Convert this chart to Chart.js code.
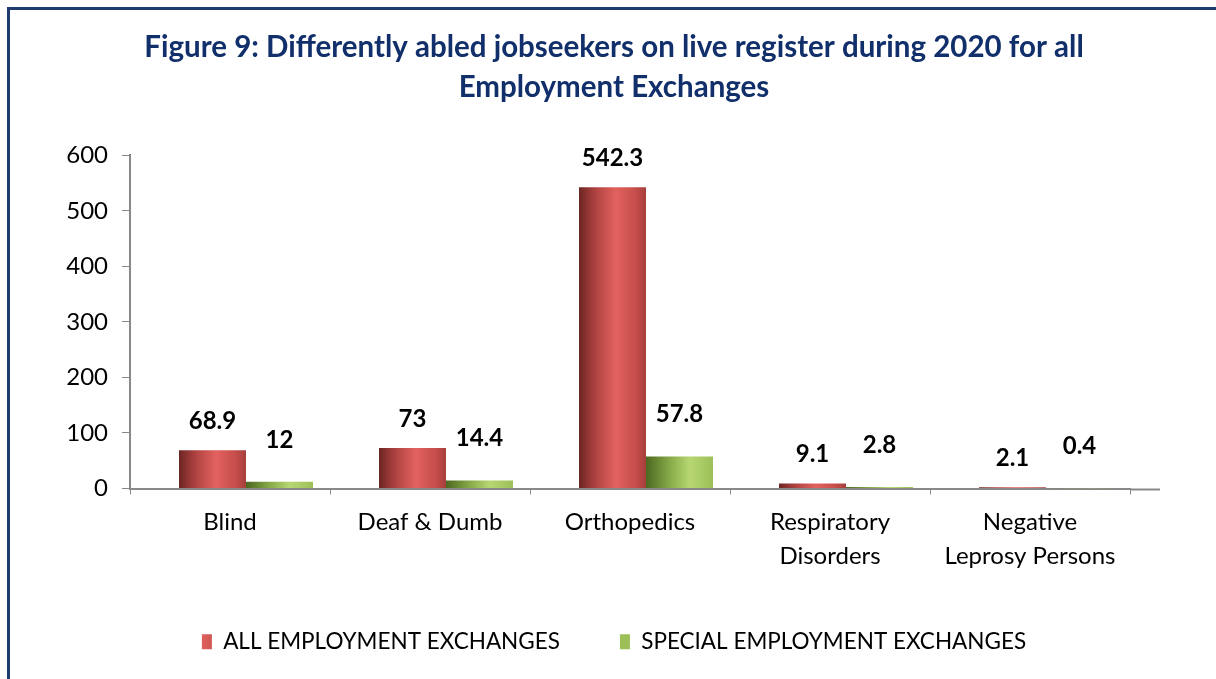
<!DOCTYPE html>
<html>
<head>
<meta charset="utf-8">
<script src="https://cdn.jsdelivr.net/npm/chart.js@4.4.1/dist/chart.umd.min.js"></script>
<style>
  html, body { margin: 0; padding: 0; background: #fff; overflow: hidden; }
  #wrap { position: relative; width: 1216px; height: 679px; }
  #frame { position: absolute; left: 7px; top: 7px; width: 1300px; height: 800px;
           border-top: 3px solid #1F3A6E; border-left: 3px solid #1F3A6E; pointer-events: none; }
  canvas { position: absolute; left: 0; top: 0; }
</style>
</head>
<body>
<div id="wrap">
  <canvas id="c" width="1216" height="679"></canvas>
  <div id="frame"></div>
</div>
<script>
const titleLines = ["Figure 9: Differently abled jobseekers on live register during 2020 for all", "Employment Exchanges"];
const categories = ["Blind", "Deaf & Dumb", "Orthopedics", ["Respiratory", "Disorders"], ["Negative", "Leprosy Persons"]];
const seriesNames = ["ALL EMPLOYMENT EXCHANGES", "SPECIAL EMPLOYMENT EXCHANGES"];
const allExchanges = [68.9, 73, 542.3, 9.1, 2.1];
const specialExchanges = [12, 14.4, 57.8, 2.8, 0.4];
const yTicks = [0, 100, 200, 300, 400, 500, 600];

const FONT = "Lato, 'Open Sans', sans-serif";
const DEPTH = 16; // pseudo-3D horizontal depth shift of the bar series

function barGradient(kind) {
  return function (ctx) {
    const solid = kind === 0 ? '#C0504D' : '#9BBB59';
    if (ctx.type !== 'data') return solid;
    const chart = ctx.chart;
    const xs = chart.scales.x;
    if (!xs || !chart.chartArea) return solid;
    const center = xs.getPixelForValue(ctx.dataIndex);
    const cat = xs.width / categories.length;
    const bw = cat * 0.67 / 2;
    const x0 = kind === 0 ? center - bw : center;
    const x1 = x0 + bw;
    const g = chart.ctx.createLinearGradient(x0, 0, x1, 0);
    if (kind === 0) {
      g.addColorStop(0, '#6C2523');
      g.addColorStop(0.25, '#B04341');
      g.addColorStop(0.55, '#E2625F');
      g.addColorStop(0.85, '#C54D4A');
      g.addColorStop(1, '#A53E3C');
    } else {
      g.addColorStop(0, '#4C6820');
      g.addColorStop(0.35, '#86A948');
      g.addColorStop(0.65, '#B6D771');
      g.addColorStop(1, '#9DBF58');
    }
    return g;
  };
}

const labelOffsets = [29, 42];
const depthAndLabels = {
  id: 'depthAndLabels',
  beforeDatasetsDraw(chart) {
    chart.ctx.save();
    chart.ctx.translate(DEPTH, 0);
  },
  afterDatasetsDraw(chart) {
    const c = chart.ctx;
    c.save();
    c.font = "bold 24px " + FONT;
    c.fillStyle = '#000';
    c.textAlign = 'center';
    c.textBaseline = 'middle';
    chart.data.datasets.forEach((ds, di) => {
      const meta = chart.getDatasetMeta(di);
      meta.data.forEach((el, i) => {
        c.fillText(String(ds.data[i]), el.x, el.y - labelOffsets[di]);
      });
    });
    c.restore();
    c.restore();
  },
  afterDraw(chart) {
    const xs = chart.scales.x;
    const c = chart.ctx;
    c.save();
    c.strokeStyle = '#888';
    c.lineWidth = 2;
    c.beginPath();
    c.moveTo(xs.right, xs.top + 1);
    c.lineTo(xs.right + 30, xs.top + 1);
    c.stroke();
    c.restore();
  }
};

new Chart(document.getElementById('c'), {
  type: 'bar',
  data: {
    labels: categories,
    datasets: [
      { label: seriesNames[0], data: allExchanges, backgroundColor: barGradient(0),
        categoryPercentage: 0.67, barPercentage: 1, yAxisID: 'y' },
      { label: seriesNames[1], data: specialExchanges, backgroundColor: barGradient(1),
        categoryPercentage: 0.67, barPercentage: 1, yAxisID: 'y' }
    ]
  },
  options: {
    responsive: false,
    animation: false,
    devicePixelRatio: 1,
    layout: { padding: { left: 12, right: 0, top: 0, bottom: 16 } },
    plugins: {
      title: {
        display: true,
        text: titleLines,
        color: '#112F6A',
        font: { family: FONT, size: 29.5, weight: 'bold', lineHeight: 1.36 },
        padding: { top: 27, bottom: 48 }
      },
      legend: {
        position: 'bottom',
        labels: {
          color: '#000',
          font: { family: FONT, size: 22.5 },
          boxWidth: 10, boxHeight: 15,
          padding: 60
        }
      },
      tooltip: { enabled: false }
    },
    scales: {
      x: {
        grid: { drawOnChartArea: false, tickLength: 6, color: '#888' },
        border: { color: '#888', width: 2 },
        ticks: { color: '#000', font: { family: FONT, size: 24, lineHeight: 1.42 }, padding: 11, maxRotation: 0 },
        afterFit(s) { s.height = 82; }
      },
      y: {
        min: 0, max: 600,
        afterBuildTicks(s) { s.ticks = yTicks.map(v => ({ value: v })); },
        grid: { drawOnChartArea: false, tickLength: 8, color: '#888' },
        border: { color: '#888', width: 2 },
        ticks: { color: '#000', font: { family: FONT, size: 24 }, padding: 14 },
        afterFit(s) { s.width = 118; }
      },
      yRight: {
        position: 'right',
        min: 0, max: 600,
        grid: { display: false },
        border: { display: false },
        ticks: { display: false },
        afterFit(s) { s.width = 86; }
      }
    }
  },
  plugins: [depthAndLabels]
});
</script>
</body>
</html>
